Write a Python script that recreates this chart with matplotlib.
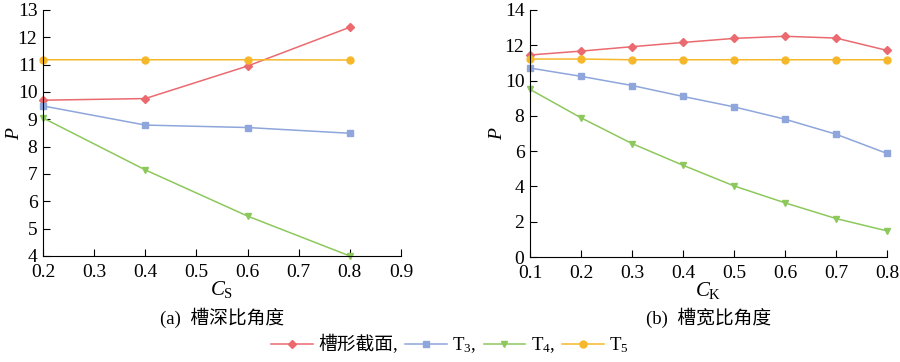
import matplotlib
matplotlib.use("Agg")
import matplotlib.pyplot as plt
from matplotlib.lines import Line2D

plt.rcParams['font.family'] = ['Liberation Serif', 'Noto Sans CJK SC']
plt.rcParams['mathtext.fontset'] = 'custom'
plt.rcParams['mathtext.rm'] = 'Liberation Serif'
plt.rcParams['mathtext.it'] = 'Liberation Serif:italic'

# (a) groove depth ratio
cs = [0.2, 0.4, 0.6, 0.8]
a_groove = [9.70, 9.76, 10.95, 12.37]
a_t3 = [9.49, 8.79, 8.70, 8.49]
a_t4 = [9.05, 7.15, 5.46, 4.00]
a_t5 = [11.18, 11.18, 11.18, 11.17]

# (b) groove width ratio
ck = [0.1, 0.2, 0.3, 0.4, 0.5, 0.6, 0.7, 0.8]
b_groove = [11.45, 11.67, 11.92, 12.16, 12.39, 12.51, 12.41, 11.71]
b_t3 = [10.71, 10.24, 9.72, 9.10, 8.51, 7.81, 6.96, 5.87]
b_t4 = [9.50, 7.89, 6.43, 5.20, 4.03, 3.07, 2.18, 1.48]
b_t5 = [11.22, 11.22, 11.18, 11.18, 11.18, 11.18, 11.18, 11.18]

labels = ['槽形截面,', 'T$_3$,', 'T$_4$,', 'T$_5$']
colors = ['#ea6a70', '#8ea6dc', '#8dc85c', '#f6b82a']
markers = ['D', 's', 'v', 'o']
msizes = [4.5, 4.5, 5, 5]

fig = plt.figure(figsize=(9, 3.62), dpi=100)
ax1 = fig.add_axes([43/900, 1-256/362, 358/900, 246/362])
ax2 = fig.add_axes([530/900, 1-257/362, 357/900, 247/362])

def draw(ax, x, series):
    for y, c, m, s in zip(series, colors, markers, msizes):
        ax.plot(x, y, color=c, marker=m, markersize=s, lw=1.1, clip_on=False)
    for sp in ['top', 'right']:
        ax.spines[sp].set_visible(False)
    ax.tick_params(direction='in', labelsize=14, length=5, width=0.8)
    ax.tick_params(axis='x', pad=6)
    ax.tick_params(axis='y', pad=4)

draw(ax1, cs, [a_groove, a_t3, a_t4, a_t5])
ax1.set_xlim(0.2, 0.9)
ax1.set_ylim(4, 13)
ax1.set_xticks([0.2, 0.3, 0.4, 0.5, 0.6, 0.7, 0.8, 0.9])
ax1.set_yticks(range(4, 14))
ax1.set_xlabel('$C_{\\mathrm{S}}$', fontsize=15, labelpad=-2)
ax1.set_ylabel('$P$', fontsize=14)
ax1.yaxis.set_label_coords(-20/358, 0.5)

draw(ax2, ck, [b_groove, b_t3, b_t4, b_t5])
ax2.set_xlim(0.1, 0.8)
ax2.set_ylim(0, 14)
ax2.set_xticks(ck)
ax2.set_yticks(range(0, 15, 2))
ax2.set_xlabel('$C_{\\mathrm{K}}$', fontsize=15, labelpad=-2)
ax2.set_ylabel('$P$', fontsize=14)
ax2.yaxis.set_label_coords(-24/357, 0.5)

fig.text((43+401)/2/900, 1-318/362, '(a)  槽深比角度', ha='center', va='center', fontsize=13.5)
fig.text((530+887)/2/900, 1-318/362, '(b)  槽宽比角度', ha='center', va='center', fontsize=13.5)

handles = [Line2D([], [], color=c, marker=m, markersize=s, lw=1.1)
           for c, m, s in zip(colors, markers, msizes)]
fig.legend(handles, labels, loc='center', bbox_to_anchor=(0.5, 1-345/362), ncol=4,
           frameon=False, fontsize=13.5, handlelength=2.2, handletextpad=0.3,
           columnspacing=0.4, borderaxespad=0)

fig.savefig('out.png', dpi=100)
